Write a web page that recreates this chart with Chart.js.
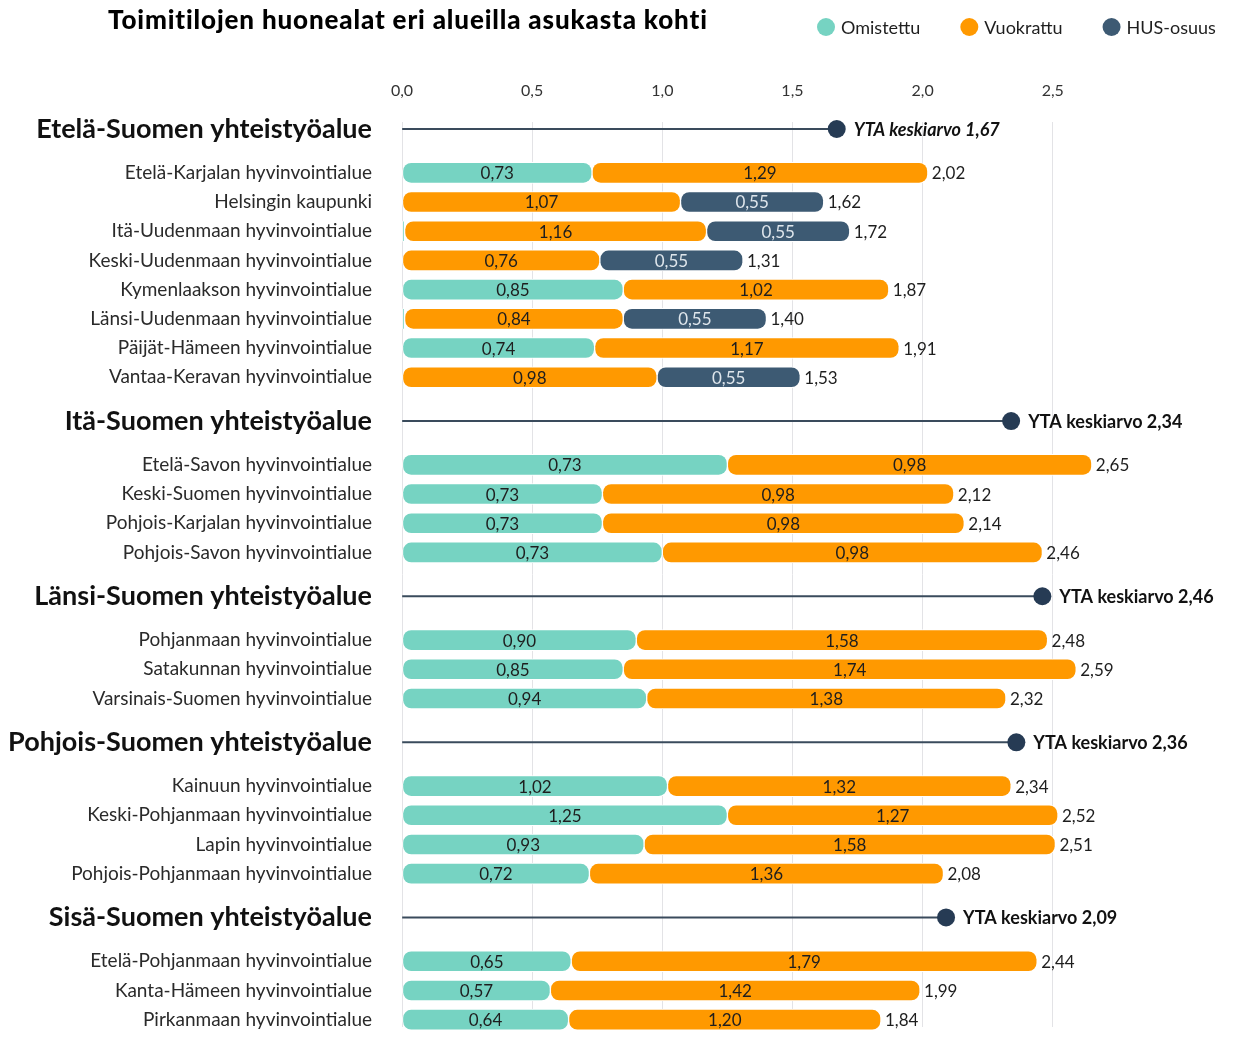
<!DOCTYPE html>
<html lang="fi">
<head>
<meta charset="utf-8">
<title>Toimitilojen huonealat eri alueilla asukasta kohti</title>
<script src="https://cdn.jsdelivr.net/npm/chart.js@4"></script>
<style>
  html, body { margin: 0; padding: 0; background: #fff; }
</style>
</head>
<body>
<canvas id="chart" width="1246" height="1045"></canvas>
<script>
// Chart data
const chartTitle = 'Toimitilojen huonealat eri alueilla asukasta kohti';
const groups = ['Etelä-Suomen yhteistyöalue', 'Itä-Suomen yhteistyöalue', 'Länsi-Suomen yhteistyöalue',
    'Pohjois-Suomen yhteistyöalue', 'Sisä-Suomen yhteistyöalue'];
const groupAverages = [1.67, 2.34, 2.46, 2.36, 2.09];
const groupSizes = [8, 4, 3, 4, 3];
const areas = [
    'Etelä-Karjalan hyvinvointialue', 'Helsingin kaupunki', 'Itä-Uudenmaan hyvinvointialue',
    'Keski-Uudenmaan hyvinvointialue', 'Kymenlaakson hyvinvointialue', 'Länsi-Uudenmaan hyvinvointialue',
    'Päijät-Hämeen hyvinvointialue', 'Vantaa-Keravan hyvinvointialue',
    'Etelä-Savon hyvinvointialue', 'Keski-Suomen hyvinvointialue', 'Pohjois-Karjalan hyvinvointialue',
    'Pohjois-Savon hyvinvointialue',
    'Pohjanmaan hyvinvointialue', 'Satakunnan hyvinvointialue', 'Varsinais-Suomen hyvinvointialue',
    'Kainuun hyvinvointialue', 'Keski-Pohjanmaan hyvinvointialue', 'Lapin hyvinvointialue',
    'Pohjois-Pohjanmaan hyvinvointialue',
    'Etelä-Pohjanmaan hyvinvointialue', 'Kanta-Hämeen hyvinvointialue', 'Pirkanmaan hyvinvointialue'
];
// bar lengths as drawn
const owned = [0.73, null, 0.01, null, 0.85, 0.01, 0.74, null,
    1.25, 0.77, 0.77, 1.00,
    0.90, 0.85, 0.94,
    1.02, 1.25, 0.93, 0.72,
    0.65, 0.57, 0.64];
const rented = [1.29, 1.07, 1.16, 0.76, 1.02, 0.84, 1.17, 0.98,
    1.40, 1.35, 1.39, 1.46,
    1.58, 1.74, 1.38,
    1.32, 1.27, 1.58, 1.36,
    1.79, 1.42, 1.20];
const hus = [null, 0.55, 0.55, 0.55, null, 0.55, null, 0.55,
    null, null, null, null,
    null, null, null,
    null, null, null, null,
    null, null, null];
// texts printed on the bars
const ownedLabels = ['0,73', '', '', '', '0,85', '', '0,74', '',
    '0,73', '0,73', '0,73', '0,73',
    '0,90', '0,85', '0,94',
    '1,02', '1,25', '0,93', '0,72',
    '0,65', '0,57', '0,64'];
const rentedLabels = ['1,29', '1,07', '1,16', '0,76', '1,02', '0,84', '1,17', '0,98',
    '0,98', '0,98', '0,98', '0,98',
    '1,58', '1,74', '1,38',
    '1,32', '1,27', '1,58', '1,36',
    '1,79', '1,42', '1,20'];
const totalLabels = ['2,02', '1,62', '1,72', '1,31', '1,87', '1,40', '1,91', '1,53',
    '2,65', '2,12', '2,14', '2,46',
    '2,48', '2,59', '2,32',
    '2,34', '2,52', '2,51', '2,08',
    '2,44', '1,99', '1,84'];
const xTicks = [0, 0.5, 1.0, 1.5, 2.0, 2.5];

const seriesNames = ['Omistettu', 'Vuokrattu', 'HUS-osuus'];
const seriesColors = ['#76d3c2', '#ff9900', '#3d5a73'];
const FONT = 'Lato, "Noto Sans", sans-serif';

const fmt = v => v.toFixed(2).replace('.', ',');

// Category slots: group header, gap, then one slot every second row
const slotLabels = [];
const slotKind = [];
const slotRow = [];
let slot = 0, row = 0;
groups.forEach((g, gi) => {
    slotLabels[slot] = g; slotKind[slot] = 'group'; slotRow[slot] = gi;
    slot += 3;
    for (let k = 0; k < groupSizes[gi]; k++) {
        slotLabels[slot] = areas[row]; slotKind[slot] = 'area'; slotRow[slot] = row;
        row++;
        slot += 2;
    }
    slot += 1;
});
for (let i = 0; i < slotLabels.length; i++) {
    if (slotLabels[i] === undefined) { slotLabels[i] = ''; slotKind[i] = 'gap'; }
}
const byArea = arr => slotLabels.map((_, i) => slotKind[i] === 'area' ? arr[slotRow[i]] : null);
const byGroup = arr => slotLabels.map((_, i) => slotKind[i] === 'group' ? arr[slotRow[i]] : null);

const segmentLabels = [
    byArea(ownedLabels),
    byArea(rentedLabels),
    byArea(hus.map(v => v == null ? '' : fmt(v)))
];
const segmentColors = ['#1e1e1e', '#1e1e1e', '#dfe6ec'];

const barStyle = {
    barThickness: 21,
    borderRadius: { topLeft: 9, topRight: 9, bottomLeft: 9, bottomRight: 9 },
    borderSkipped: false,
    borderWidth: 1,
    borderColor: '#ffffff',
    clip: false
};

// Labels, totals, averages, title and legend
const labelPlugin = {
    id: 'barLabels',
    afterDatasetsDraw(chart) {
        const ctx = chart.ctx;
        ctx.save();
        ctx.textBaseline = 'middle';
        ctx.font = '17px ' + FONT;
        const ends = {};
        [0, 1, 2].forEach(di => {
            const meta = chart.getDatasetMeta(di);
            meta.data.forEach((bar, i) => {
                if (chart.data.datasets[di].data[i] == null) return;
                const p = bar.getProps(['x', 'y', 'base'], true);
                ends[i] = Math.max(ends[i] || 0, p.x);
                const text = segmentLabels[di][i];
                if (!text) return;
                ctx.fillStyle = segmentColors[di];
                ctx.textAlign = 'center';
                ctx.fillText(text, (p.x + p.base) / 2, p.y + 1);
            });
        });
        ctx.fillStyle = '#1e1e1e';
        ctx.textAlign = 'left';
        Object.keys(ends).forEach(i => {
            const y = chart.getDatasetMeta(0).data[i].getProps(['y'], true).y;
            ctx.fillText(totalLabels[slotRow[i]], ends[i] + 4, y + 1);
        });
        const avgMeta = chart.getDatasetMeta(4);
        avgMeta.data.forEach((pt, i) => {
            if (slotKind[i] !== 'group') return;
            const gi = slotRow[i];
            ctx.font = (gi === 0 ? 'italic ' : '') + 'bold 18px ' + FONT;
            ctx.fillStyle = '#111111';
            ctx.fillText('YTA keskiarvo ' + groupAverages[gi].toFixed(2).replace('.', ','), pt.x + 17, pt.y + 1);
        });
        ctx.restore();
    },
    afterDraw(chart) {
        const ctx = chart.ctx;
        ctx.save();
        ctx.textBaseline = 'middle';
        ctx.textAlign = 'left';
        ctx.fillStyle = '#000000';
        ctx.font = '900 26px ' + FONT;
        ctx.letterSpacing = '0.85px';
        ctx.fillText(chartTitle, 108, 21);
        ctx.letterSpacing = '0px';
        // legend
        ctx.font = '18px ' + FONT;
        let x = 817;
        seriesNames.forEach((name, k) => {
            ctx.fillStyle = seriesColors[k];
            ctx.beginPath();
            ctx.arc(x + 9, 27, 9, 0, Math.PI * 2);
            ctx.fill();
            ctx.fillStyle = '#1e1e1e';
            ctx.fillText(name, x + 24, 28);
            x += 24 + ctx.measureText(name).width + 40;
        });
        ctx.restore();
    }
};

Chart.defaults.font.family = FONT;

const ctx = document.getElementById('chart').getContext('2d');
const chart = new Chart(ctx, {
    type: 'bar',
    data: {
        labels: slotLabels,
        datasets: [
            { label: seriesNames[0], data: byArea(owned), backgroundColor: seriesColors[0], ...barStyle },
            { label: seriesNames[1], data: byArea(rented), backgroundColor: seriesColors[1], ...barStyle },
            { label: seriesNames[2], data: byArea(hus), backgroundColor: seriesColors[2], ...barStyle },
            {
                label: 'YTA', data: byGroup(groupAverages), backgroundColor: '#3a4b5c',
                barThickness: 1.3, borderWidth: 0, borderRadius: 0
            },
            {
                type: 'line', label: 'YTA keskiarvo', data: byGroup(groupAverages), indexAxis: 'y',
                showLine: false, pointRadius: 9, pointHoverRadius: 9, pointBorderWidth: 0,
                pointBackgroundColor: '#263b54', order: -1
            }
        ]
    },
    options: {
        indexAxis: 'y',
        responsive: false,
        animation: false,
        devicePixelRatio: 1,
        layout: { padding: { top: 60, right: 11, bottom: 18, left: 0 } },
        scales: {
            x: {
                type: 'linear',
                position: 'top',
                stacked: true,
                min: 0,
                max: 3.2,
                afterBuildTicks: scale => { scale.ticks = xTicks.map(v => ({ value: v })); },
                afterFit: scale => { scale.height = 61.7; },
                ticks: {
                    callback: v => v.toFixed(1).replace('.', ','),
                    padding: 21,
                    color: '#333333',
                    font: { size: 16 }
                },
                grid: { color: '#e3e3e6', lineWidth: 1, drawTicks: false },
                border: { display: false }
            },
            y: {
                type: 'category',
                stacked: true,
                afterFit: scale => {
                    scale.width = 402;
                    scale.paddingTop = 0;
                    scale.paddingBottom = 0;
                },
                grid: { display: false, drawTicks: false },
                border: { display: false },
                ticks: {
                    autoSkip: false,
                    padding: 30,
                    color: c => slotKind[c.index] === 'group' ? '#111111' : '#2a2a2a',
                    font: c => slotKind[c.index] === 'group'
                        ? { size: 27, weight: 'bold' }
                        : { size: 19, weight: 'normal' }
                }
            }
        },
        plugins: {
            legend: { display: false },
            tooltip: { enabled: false }
        }
    },
    plugins: [labelPlugin]
});
</script>
</body>
</html>
